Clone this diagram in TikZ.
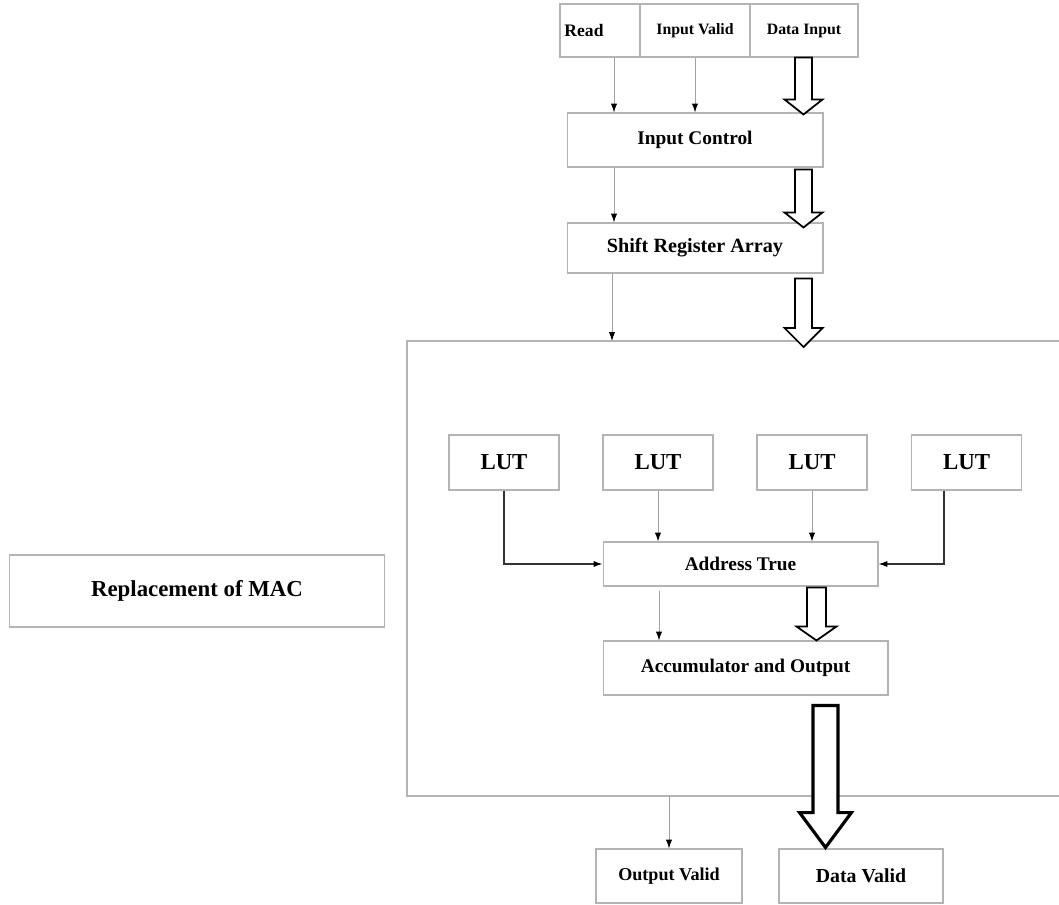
\documentclass[tikz,border=0pt]{standalone}
\usepackage{fontspec}
\setmainfont{Liberation Serif}
\usetikzlibrary{calc, arrows.meta}

\definecolor{boxgray}{HTML}{B4B4B4}
\definecolor{sigray}{HTML}{A0A0A0}

\tikzset{
	blk/.style={draw=boxgray, line width=0.6pt, inner sep=0pt, font=\bfseries},
	sig/.style={draw=sigray, line width=0.5pt, -{Latex[length=5pt, width=3.5pt, black]}},
	lutsig/.style={draw=black!80, line width=0.7pt, -{Latex[length=5pt, width=3.5pt, black]}},
	fat/.style={draw=black, line width=1pt, fill=white, line join=miter},
	bigfat/.style={fat, line width=1.8pt},
}

\begin{document}
\begin{tikzpicture}[x=0.02cm, y=-0.02cm]
					\def\pxu{0.5669pt}
					% hollow arrow: style, start, tip, shaft half, head half, head length (px)
					\def\fatarrow#1#2#3#4#5#6{%
						\draw[#1] let \p1=(#2), \p2=(#3) in
							(\x1-#4*\pxu,\y1) -- (\x1-#4*\pxu,\y2+#6*\pxu) -- (\x1-#5*\pxu,\y2+#6*\pxu) -- (\x1,\y2)
							-- (\x1+#5*\pxu,\y2+#6*\pxu) -- (\x1+#4*\pxu,\y2+#6*\pxu) -- (\x1+#4*\pxu,\y1) -- cycle;}

					\useasboundingbox (0,0) rectangle (1059,904);

					% inputs
					\begin{scope}[every node/.style={blk, minimum height=1.06cm, font=\bfseries\fontsize{9}{11}\selectfont}]
						\node (read) at (600,30.5) [minimum width=1.6cm, font=\bfseries\fontsize{10}{12}\selectfont] {Read\hspace*{0.64cm}};
						\node (ival) at (695,30.5) [minimum width=2.2cm] {Input Valid};
						\node (dinp) at (804,30.5) [minimum width=2.16cm] {Data Input};
					\end{scope}

					\node (ictl) at (695,140) [blk, minimum width=5.12cm, minimum height=1.08cm, font=\bfseries\fontsize{11}{13}\selectfont] {Input Control};
					\node (sreg) at (695,248) [blk, minimum width=5.12cm, minimum height=1cm, font=\bfseries\fontsize{11.5}{13}\selectfont] {Shift Register Array};

					% MAC replacement block (right side runs off the page)
					\coordinate (mtl) at (407,341);
					\coordinate (mbl) at (407,796);
					\draw[boxgray, line width=0.6pt] (1059,0 |- mtl) -- (mtl) -- (mbl) -- (1059,0 |- mbl);

					\begin{scope}[every node/.style={blk, minimum width=2.2cm, minimum height=1.1cm, font=\bfseries\fontsize{13}{15}\selectfont}]
						\node (lut1) at (504,462.5) {LUT};
						\node (lut2) at (658,462.5) {LUT};
						\node (lut3) at (812,462.5) {LUT};
						\node (lut4) at (966.5,462.5) {LUT};
					\end{scope}

					\node (addr) at (740.5,564) [blk, minimum width=5.5cm, minimum height=0.88cm, font=\bfseries\fontsize{11}{13}\selectfont] {Address True};
					\node (acc) at (745.5,668) [blk, minimum width=5.7cm, minimum height=1.08cm, font=\bfseries\fontsize{11}{13}\selectfont] {Accumulator and Output};

					\node (oval) at (669,876) [blk, minimum width=2.92cm, minimum height=1.08cm, font=\bfseries\fontsize{10.3}{12}\selectfont] {Output Valid};
					\node (dval) at (861,876) [blk, minimum width=3.28cm, minimum height=1.08cm, font=\bfseries\fontsize{11.3}{13}\selectfont] {Data Valid};

					\node (mac) at (197,591) [blk, minimum width=7.52cm, minimum height=1.44cm, font=\bfseries\fontsize{13}{15}\selectfont] {Replacement of MAC};

					% control signals
					\begin{scope}
						\draw[sig] (614,0 |- read.south) -- (614,0 |- ictl.north);
						\draw[sig] (ival.south) -- (ival.south |- ictl.north);
						\draw[sig] (614,0 |- ictl.south) -- (614,0 |- sreg.north);
						\draw[sig] (612,0 |- sreg.south) -- (612,0 |- mtl);
						\draw[sig] (lut2.south) -- (lut2.south |- addr.north);
						\draw[sig] (lut3.south) -- (lut3.south |- addr.north);
						\draw[lutsig] (lut1.south) |- (addr.west);
						\draw[lutsig] (944,0 |- lut4.south) |- (addr.east);
						\draw[sig, shorten <=2.5pt] (659,0 |- addr.south) -- (659,0 |- acc.north);
						\draw[sig] (669,0 |- mbl) -- (oval.north);
					\end{scope}

					% data paths
					\begin{scope}
						\fatarrow{fat}{803.5,0 |- dinp.south}{$(803.5,0 |- ictl.north)+(0,2)$}{8.5}{19}{15}
						\fatarrow{fat}{$(803.5,0 |- ictl.south)+(0,2)$}{$(803.5,0 |- sreg.north)+(0,5)$}{8.5}{19}{15}
						\fatarrow{fat}{$(803.5,0 |- sreg.south)+(0,5)$}{$(803.5,0 |- mtl)+(0,6)$}{8.5}{19}{19}
						\fatarrow{fat}{$(816.5,0 |- addr.south)+(0,1)$}{816.5,0 |- acc.north}{9.5}{20}{14}
						\fatarrow{bigfat}{$(825.5,0 |- acc.south)+(0,10)$}{$(825.5,0 |- dval.north)+(0,-1)$}{12.5}{26}{35}
					\end{scope}
				\end{tikzpicture}
\end{document}
